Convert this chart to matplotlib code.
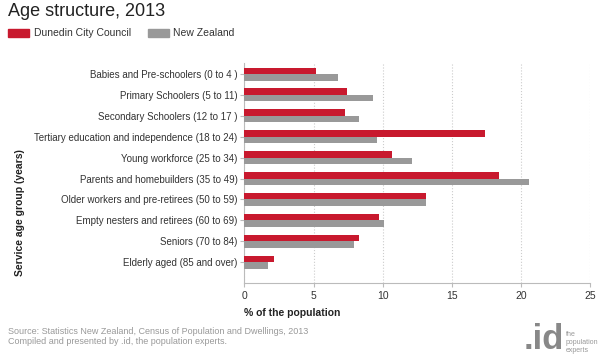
import matplotlib.pyplot as plt
import matplotlib.patches as mpatches
import numpy as np

plt.rcParams['font.family'] = ['Liberation Sans', 'DejaVu Sans']

# 資料
categories = [
    "Babies and Pre-schoolers (0 to 4 )",
    "Primary Schoolers (5 to 11)",
    "Secondary Schoolers (12 to 17 )",
    "Tertiary education and independence (18 to 24)",
    "Young workforce (25 to 34)",
    "Parents and homebuilders (35 to 49)",
    "Older workers and pre-retirees (50 to 59)",
    "Empty nesters and retirees (60 to 69)",
    "Seniors (70 to 84)",
    "Elderly aged (85 and over)",
]
dunedin = [5.2, 7.4, 7.3, 17.4, 10.7, 18.4, 13.1, 9.7, 8.3, 2.1]
new_zealand = [6.8, 9.3, 8.3, 9.6, 12.1, 20.6, 13.1, 10.1, 7.9, 1.7]
series_names = ["Dunedin City Council", "New Zealand"]
xticks = [0, 5, 10, 15, 20, 25]

red = '#c8192e'
grey = '#999999'
narrow = ['Liberation Sans Narrow', 'Liberation Sans', 'DejaVu Sans']

fig = plt.figure(figsize=(6, 3.57), dpi=100)
ax = fig.add_axes([244.5 / 600, 1 - 283 / 357, (590 - 244.5) / 600, 220 / 357])

y = np.arange(len(categories))
h = 0.31
ax.barh(y - h / 2, dunedin, height=h, color=red, zorder=3)
ax.barh(y + h / 2, new_zealand, height=h, color=grey, zorder=3)

ax.set_xlim(0, 25)
ax.set_ylim(10.0, -0.53)
ax.set_xticks(xticks)
ax.set_xticklabels([str(t) for t in xticks], fontsize=7.5, family=narrow)
ax.set_yticks(y)
ax.set_yticklabels(categories, fontsize=7, family=narrow)
ax.tick_params(axis='both', colors='#bbbbbb', length=3, width=0.8, labelcolor='#333333')
ax.tick_params(axis='x', pad=3)
ax.tick_params(axis='y', pad=2)

ax.xaxis.grid(True, linestyle=':', color='#cccccc', linewidth=0.8, zorder=0)
for s in ['top', 'right']:
    ax.spines[s].set_visible(False)
for s in ['left', 'bottom']:
    ax.spines[s].set_color('#bbbbbb')
    ax.spines[s].set_linewidth(0.8)

ax.set_xlabel("% of the population", fontsize=7.5, fontweight='bold', color='#222222',
              labelpad=5, family=narrow, loc='left')
fig.text(20 / 600, 1 - 213 / 357, "Service age group (years)", rotation=90, fontsize=7.5,
         fontweight='bold', color='#222222', ha='center', va='center', family=narrow)

# 標題與圖例
fig.text(8 / 600, 1 - 11 / 357, "Age structure, 2013", fontsize=13, color='#222222', va='center')
fig.patches.append(mpatches.Rectangle((8 / 600, 1 - 37 / 357), 21 / 600, 8 / 357,
                                      transform=fig.transFigure, color=red))
fig.text(34 / 600, 1 - 33 / 357, series_names[0], fontsize=7.5, color='#333333', va='center')
fig.patches.append(mpatches.Rectangle((148 / 600, 1 - 37 / 357), 21 / 600, 8 / 357,
                                      transform=fig.transFigure, color=grey))
fig.text(173 / 600, 1 - 33 / 357, series_names[1], fontsize=7.5, color='#333333', va='center')

# 來源
fig.text(8 / 600, 1 - 331 / 357, "Source: Statistics New Zealand, Census of Population and Dwellings, 2013",
         fontsize=6.5, color='#999999', va='center')
fig.text(8 / 600, 1 - 341 / 357, "Compiled and presented by .id, the population experts.",
         fontsize=6.5, color='#999999', va='center')

# logo
fig.text(564 / 600, 1 / 357, ".id", fontsize=25, fontweight='bold', color='#888888',
         ha='right', va='bottom')
fig.text(566 / 600, 1 - 343 / 357, "the\npopulation\nexperts", fontsize=5, color='#999999',
         ha='left', va='center', linespacing=1.2)

plt.savefig('out.png', dpi=100)
